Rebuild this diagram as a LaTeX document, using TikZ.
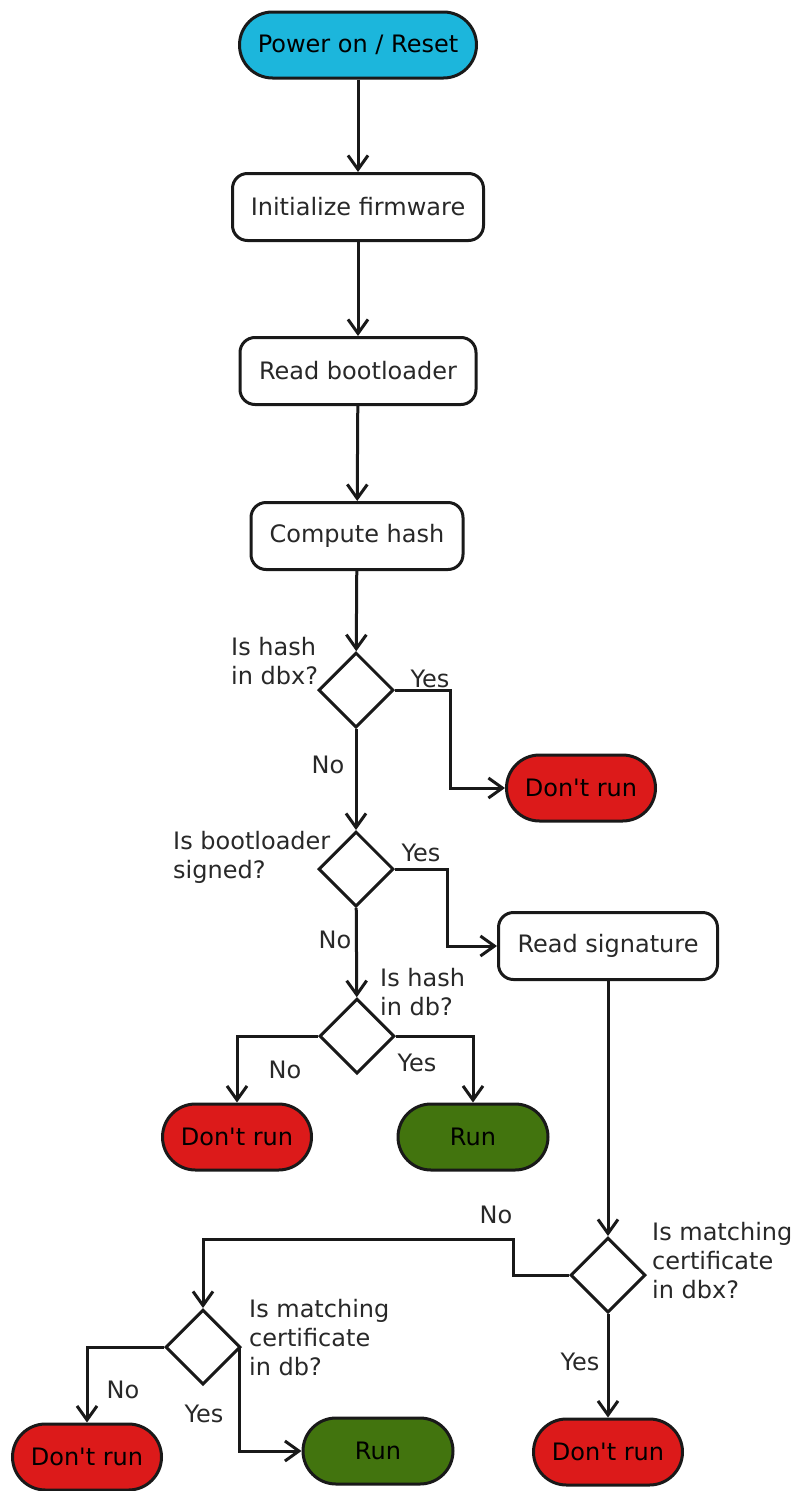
\documentclass[tikz,border=0pt]{standalone}
\usepackage{fontspec}
\setmainfont{DejaVu Sans}
\usetikzlibrary{shapes.geometric,arrows.meta}
\definecolor{startcol}{RGB}{28,182,220}
\definecolor{stopcol}{RGB}{220,26,26}
\definecolor{runcol}{RGB}{66,116,14}
\definecolor{txt}{RGB}{40,40,40}
\newcommand{\dontrun}{Don\textquotesingle t run}
\tikzset{
  base/.style={draw=black!90, line width=3pt, font=\fontsize{24}{29}\selectfont, text=txt, inner sep=0pt},
  terminal/.style={base, rectangle, rounded corners=33pt, minimum height=66pt, text=black},
  startbox/.style={terminal, fill=startcol, minimum width=237pt},
  stopbox/.style={terminal, fill=stopcol, minimum width=149pt},
  runbox/.style={terminal, fill=runcol, minimum width=150pt},
  procbox/.style={base, rectangle, rounded corners=15pt, minimum height=67pt, fill=white},
  decision/.style={base, diamond, minimum width=75pt, minimum height=75pt, fill=white},
  lbl/.style={font=\fontsize{24}{29}\selectfont, text=txt, inner sep=0pt},
  question/.style={lbl, align=left, anchor=west},
  arr/.style={draw=black!90, line width=3pt, -{Straight Barb[length=14pt,width=20pt,line width=3pt]}}
}
\begin{document}
\begin{tikzpicture}[x=1pt, y=-1pt]
  \useasboundingbox (0,0) rectangle (796,1491);

  % main column
  \node[startbox] (power) at (358,45) {Power on / Reset};
  \node[procbox, minimum width=251pt] (init) at (358,207) {Initialize firmware};
  \node[procbox, minimum width=236pt] (readbl) at (358,371) {Read bootloader};
  \node[procbox, minimum width=212pt] (hash) at (357,536) {Compute hash};
  \node[decision] (dbx) at (356,690) {};
  \node[stopbox] (stopA) at (581,788) {\dontrun};
  \node[decision] (signed) at (356,869) {};
  \node[procbox, minimum width=219pt] (readsig) at (608,946) {Read signature};
  \node[decision] (db) at (357,1036) {};
  \node[stopbox] (stopB) at (237,1137) {\dontrun};
  \node[runbox] (runA) at (473,1137) {Run};
  \node[decision] (certdbx) at (608,1275) {};
  \node[stopbox] (stopC) at (608,1452) {\dontrun};
  \node[decision] (certdb) at (203,1347) {};
  \node[stopbox] (stopD) at (87,1457) {\dontrun};
  \node[runbox] (runB) at (378,1451) {Run};

  % questions beside the decisions
  \node[question] (qdbx) at (231,661) {Is hash\\in dbx?};
  \node[question] (qsigned) at (173,857) {Is bootloader\\signed?};
  \node[question] (qdb) at (380,992) {Is hash\\in db?};
  \node[question] (qcertdbx) at (652,1261) {Is matching\\certificate\\in dbx?};
  \node[question] (qcertdb) at (249,1338) {Is matching\\certificate\\in db?};

  % connectors
  \draw[arr] (power) -- (init);
  \draw[arr] (init) -- (readbl);
  \draw[arr] (readbl) -- (hash);
  \draw[arr] (hash) -- (dbx);
  \draw[arr] (dbx.east) -- ++(55,0) |- (stopA.west);
  \draw[arr] (dbx) -- (signed);
  \draw[arr] (signed.east) -- ++(52,0) |- (readsig.west);
  \draw[arr] (signed) -- (db);
  \draw[arr] (db.west) -| (stopB.north);
  \draw[arr] (db.east) -| (runA.north);
  \draw[arr] (readsig) -- (certdbx);
  \draw[arr] (certdbx.west) -- ++(-56,0) -- ++(0,-36) -| (certdb.north);
  \draw[arr] (certdbx) -- (stopC);
  \draw[arr] (certdb.west) -| (stopD.north);
  \draw[arr] (certdb.east) ++(-3,0) |- (runB.west);

  % branch labels
  \node[lbl] (y1) at (430,679) {Yes};
  \node[lbl] (n1) at (328,765) {No};
  \node[lbl] (y2) at (421,853) {Yes};
  \node[lbl] (n2) at (335,940) {No};
  \node[lbl] (n3) at (285,1070) {No};
  \node[lbl] (y3) at (417,1063) {Yes};
  \node[lbl] (n4) at (496,1215) {No};
  \node[lbl] (y4) at (580,1362) {Yes};
  \node[lbl] (n5) at (123,1390) {No};
  \node[lbl] (y5) at (204,1414) {Yes};
\end{tikzpicture}
\end{document}
